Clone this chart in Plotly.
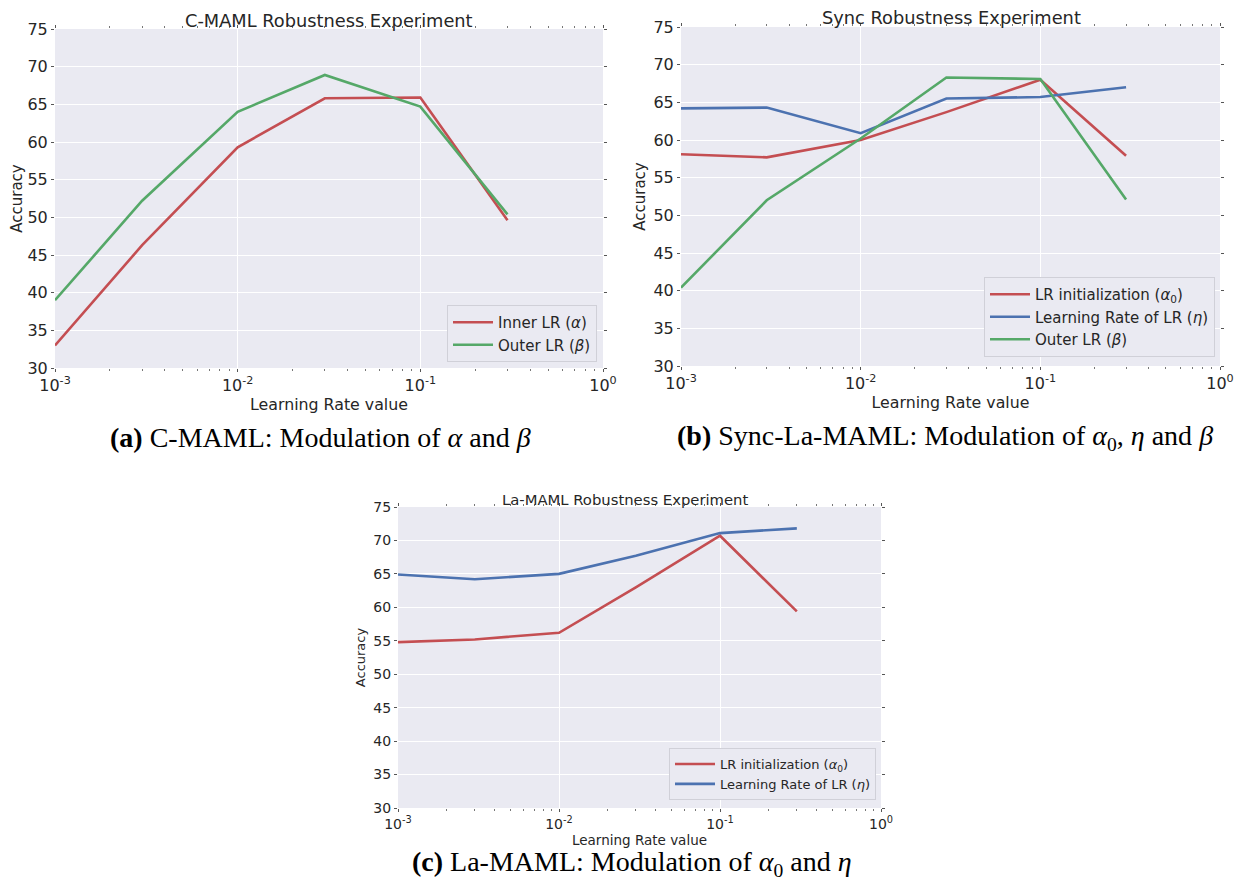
import plotly.graph_objects as go

# ---- data ----
lr = [1e-3, 3e-3, 1e-2, 3e-2, 1e-1, 3e-1]

cmaml_inner = [33.0, 46.3, 59.3, 65.8, 65.9, 49.6]
cmaml_outer = [39.0, 52.2, 64.0, 68.9, 64.7, 50.4]

sync_alpha0 = [58.1, 57.7, 60.0, 63.7, 68.0, 57.9]
sync_eta = [64.2, 64.3, 60.9, 65.5, 65.7, 67.0]
sync_beta = [40.4, 52.0, 60.2, 68.3, 68.1, 52.1]

lamaml_alpha0 = [54.8, 55.2, 56.2, 63.0, 70.7, 59.4]
lamaml_eta = [64.9, 64.2, 65.0, 67.7, 71.1, 71.8]

x_tickvals = [1e-3, 1e-2, 1e-1, 1]
x_ticktext = ["10<sup>-3</sup>", "10<sup>-2</sup>", "10<sup>-1</sup>", "10<sup>0</sup>"]
y_tickvals = [30, 35, 40, 45, 50, 55, 60, 65, 70, 75]

RED = "#C44E52"
GREEN = "#55A868"
BLUE = "#4C72B0"
BG = "#EAEAF2"
TXT = "#262626"

OFF = 8  # page body margin offset
W, H = 1244 - 2 * OFF, 888 - 2 * OFF

def px_x(p):
    return (p - OFF) / W

def px_y(p):
    return 1 - (p - OFF) / H

fig = go.Figure()

def add(x, y, name, color, xa, ya, legend):
    fig.add_trace(go.Scatter(x=x, y=y, mode="lines", name=name,
                             line=dict(color=color, width=2.6),
                             xaxis=xa, yaxis=ya, legend=legend))

add(lr, cmaml_inner, "Inner LR (<i>α</i>)", RED, "x", "y", "legend")
add(lr, cmaml_outer, "Outer LR (<i>β</i>)", GREEN, "x", "y", "legend")
add(lr, sync_alpha0, "LR initialization (<i>α</i><sub>0</sub>)", RED, "x2", "y2", "legend2")
add(lr, sync_eta, "Learning Rate of LR (<i>η</i>)", BLUE, "x2", "y2", "legend2")
add(lr, sync_beta, "Outer LR (<i>β</i>)", GREEN, "x2", "y2", "legend2")
add(lr, lamaml_alpha0, "LR initialization (<i>α</i><sub>0</sub>)", RED, "x3", "y3", "legend3")
add(lr, lamaml_eta, "Learning Rate of LR (<i>η</i>)", BLUE, "x3", "y3", "legend3")

minor_vals = []
for d in [1e-3, 1e-2, 1e-1]:
    for k in range(2, 10):
        minor_vals.append(d * k)

def xaxis(dom, anchor, fs, title_fs):
    return dict(domain=dom, anchor=anchor, type="log", range=[-3, 0],
                automargin=False, ticklabeloverflow="allow",
                tickvals=x_tickvals, ticktext=x_ticktext,
                tickfont=dict(family="DejaVu Sans", size=fs, color=TXT),
                showgrid=True, gridcolor="white", gridwidth=1,
                zeroline=False, showline=False,
                ticks="outside", ticklen=3, tickcolor="#555555", mirror="ticks",
                minor=dict(tickvals=minor_vals, ticks="outside", ticklen=2,
                           tickcolor="#777777", showgrid=False),
                title=dict(text="Learning Rate value",
                           font=dict(family="DejaVu Sans", size=title_fs, color=TXT),
                           standoff=2))

def yaxis(dom, anchor, fs, title_fs):
    return dict(domain=dom, anchor=anchor, range=[30, 75],
                automargin=False,
                tickvals=y_tickvals,
                tickfont=dict(family="DejaVu Sans", size=fs, color=TXT),
                showgrid=True, gridcolor="white", gridwidth=1,
                zeroline=False, showline=False,
                ticks="outside", ticklen=3, tickcolor="#555555", mirror="ticks",
                title=dict(text="Accuracy",
                           font=dict(family="DejaVu Sans", size=title_fs, color=TXT),
                           standoff=4))

fig.update_layout(
    width=W, height=H,
    margin=dict(l=0, r=0, t=0, b=0, autoexpand=False),
    paper_bgcolor="white",
    plot_bgcolor=BG,
    showlegend=True,
    xaxis=xaxis([px_x(55), px_x(603)], "y", 16, 15.8),
    yaxis=yaxis([px_y(368), px_y(29)], "x", 16, 15),
    xaxis2=xaxis([px_x(681), px_x(1220)], "y2", 16, 15.8),
    yaxis2=yaxis([px_y(366), px_y(27)], "x2", 16, 15),
    xaxis3=xaxis([px_x(398), px_x(881)], "y3", 14, 13.5),
    yaxis3=yaxis([px_y(808), px_y(507)], "x3", 14, 13),
    legend=dict(x=px_x(597), y=px_y(362), xanchor="right", yanchor="bottom",
                bgcolor=BG, bordercolor="#D0D0D8", borderwidth=1,
                font=dict(family="DejaVu Sans", size=15, color=TXT),
                itemwidth=40, tracegroupgap=0),
    legend2=dict(x=px_x(1215), y=px_y(357), xanchor="right", yanchor="bottom",
                 bgcolor=BG, bordercolor="#D0D0D8", borderwidth=1,
                 font=dict(family="DejaVu Sans", size=15, color=TXT),
                 itemwidth=40, tracegroupgap=0),
    legend3=dict(x=px_x(876), y=px_y(800), xanchor="right", yanchor="bottom",
                 bgcolor=BG, bordercolor="#D0D0D8", borderwidth=1,
                 font=dict(family="DejaVu Sans", size=13, color=TXT),
                 itemwidth=40, tracegroupgap=0),
)

# panel titles
titles = [("C-MAML Robustness Experiment", 329, 20, 17.8),
          ("Sync Robustness Experiment", 951, 18, 17.8),
          ("La-MAML Robustness Experiment", 625, 499, 14.8)]
for t, x, y, fs in titles:
    fig.add_annotation(text=t, x=px_x(x), y=px_y(y), xref="paper", yref="paper",
                       showarrow=False, xanchor="center", yanchor="middle",
                       font=dict(family="DejaVu Sans", size=fs, color=TXT))

# captions
captions = [("<b>(a)</b> C-MAML: Modulation of <i>α</i> and <i>β</i>", 320, 437),
            ("<b>(b)</b> Sync-La-MAML: Modulation of <i>α</i><sub>0</sub>, <i>η</i> and <i>β</i>", 945, 437),
            ("<b>(c)</b> La-MAML: Modulation of <i>α</i><sub>0</sub> and <i>η</i>", 632, 863)]
for t, x, y in captions:
    fig.add_annotation(text=t, x=px_x(x), y=px_y(y), xref="paper", yref="paper",
                       showarrow=False, xanchor="center", yanchor="middle",
                       font=dict(family="Liberation Serif", size=28, color="black"))

fig.write_html("out.html")
